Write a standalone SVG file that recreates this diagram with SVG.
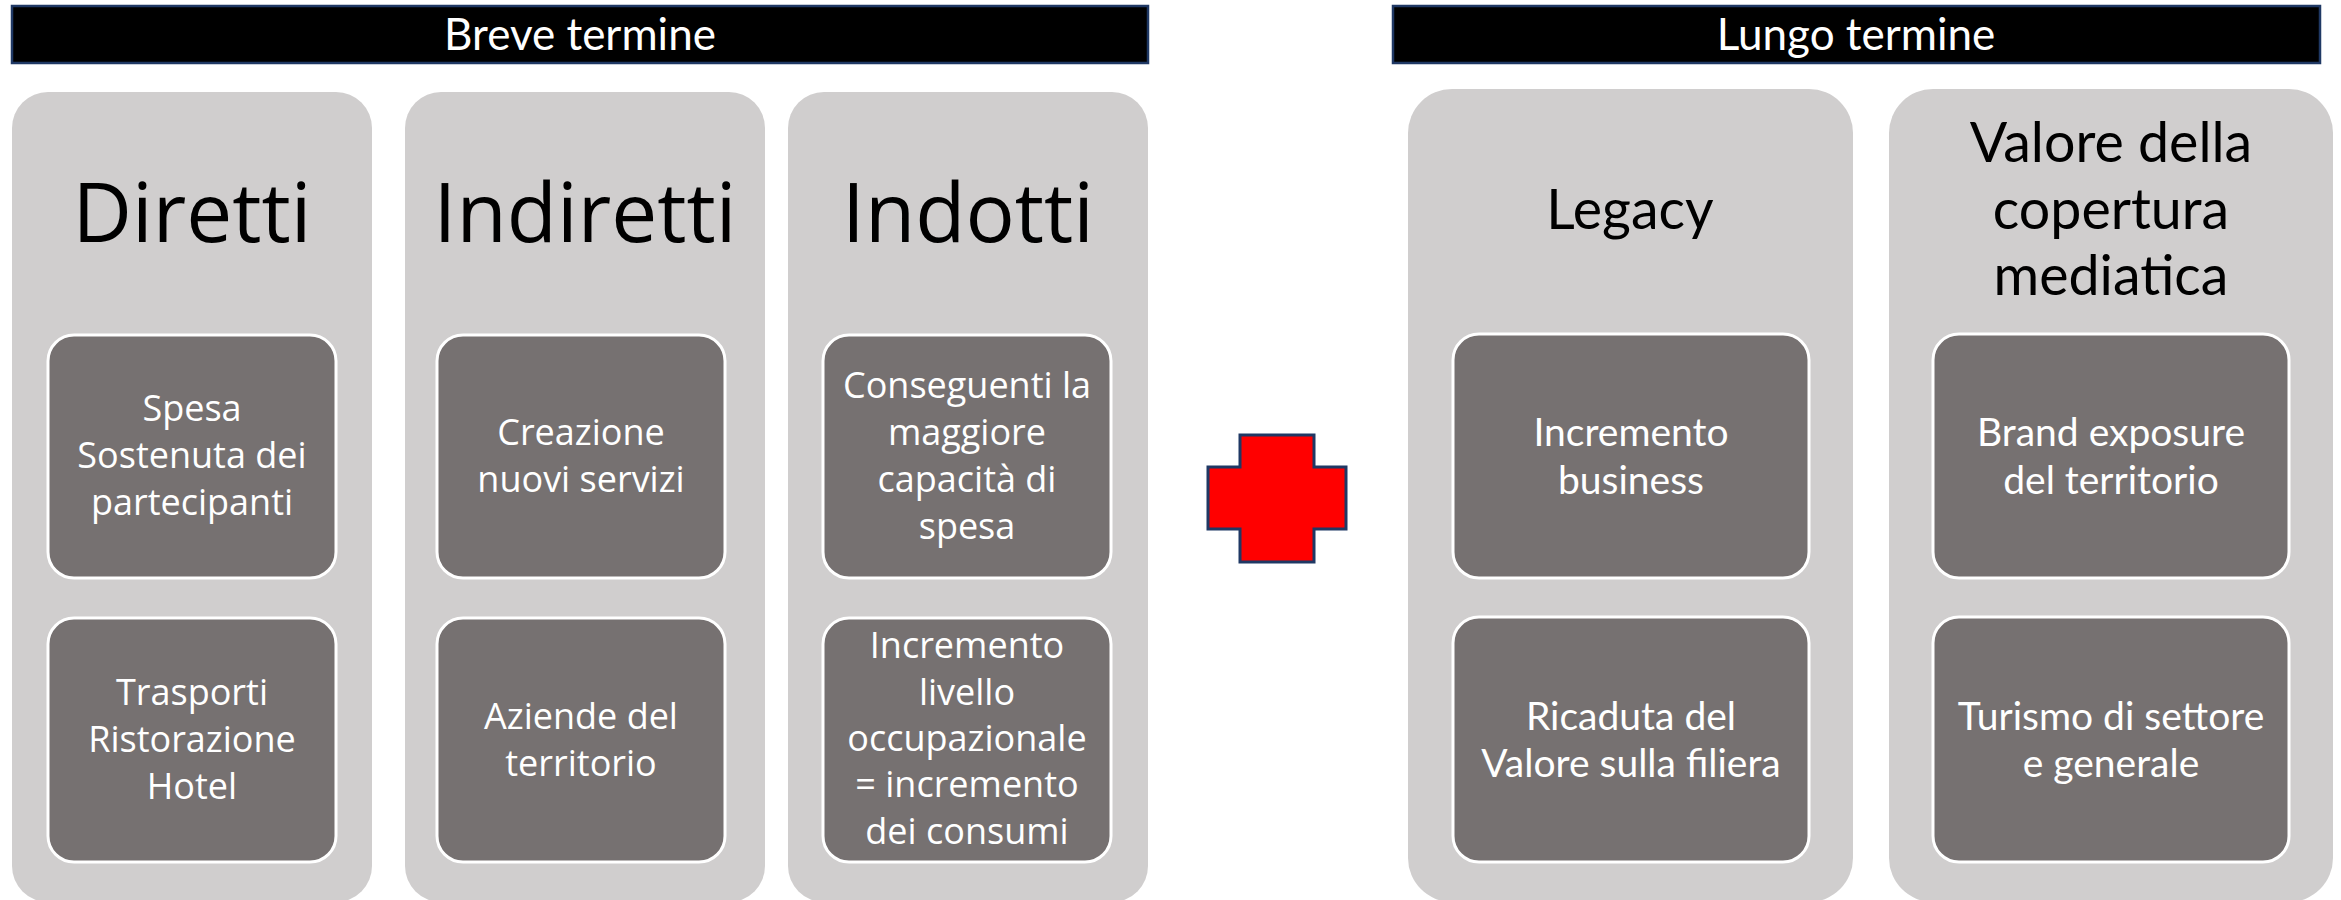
<svg xmlns="http://www.w3.org/2000/svg" width="2341" height="900" viewBox="0 0 2341 900">
<style>
.hdr{fill:#000000;stroke:#1F3864;stroke-width:2.5}
.hdrt{fill:#FFFFFF;font-family:Lato,"Liberation Sans",sans-serif;font-size:44px;text-anchor:middle}
.col{fill:#D0CECE}
.box{fill:#767171;stroke:#FFFFFF;stroke-width:3}
.h1{fill:#000000;font-family:"Open Sans","Noto Sans",sans-serif;font-size:82px;text-anchor:middle}
.h2{fill:#000000;font-family:Lato,"Liberation Sans",sans-serif;font-size:55.5px;text-anchor:middle}
.t1{fill:#FFFFFF;font-family:"Open Sans","Noto Sans",sans-serif;font-size:36px;text-anchor:middle}
.t2{fill:#FFFFFF;font-family:Lato,"Liberation Sans",sans-serif;font-size:39px;text-anchor:middle}
.plus{fill:#FF0000;stroke:#1F3864;stroke-width:3}
</style>
<rect width="2341" height="900" fill="#FFFFFF"/>
<g id="header-breve">
<rect class="hdr" x="12" y="6" width="1136" height="57"/>
<text class="hdrt" x="580" y="50">Breve termine</text>
</g>
<g id="header-lungo">
<rect class="hdr" x="1393" y="6" width="927" height="57"/>
<text class="hdrt" x="1856" y="50">Lungo termine</text>
</g>
<g id="col-diretti">
<rect class="col" x="12" y="92" width="360" height="810" rx="36"/>
<text class="h1" x="192" y="242">Diretti</text>
</g>
<g id="col-indiretti">
<rect class="col" x="405" y="92" width="360" height="810" rx="36"/>
<text class="h1" x="585" y="242">Indiretti</text>
</g>
<g id="col-indotti">
<rect class="col" x="788" y="92" width="360" height="810" rx="36"/>
<text class="h1" x="968" y="242">Indotti</text>
</g>
<g id="col-legacy">
<rect class="col" x="1408" y="89" width="445" height="813" rx="44"/>
<text class="h2" x="1630" y="229">Legacy</text>
</g>
<g id="col-valore">
<rect class="col" x="1889" y="89" width="444" height="813" rx="44"/>
<text class="h2" x="2111" y="162">Valore della</text>
<text class="h2" x="2111" y="229">copertura</text>
<text class="h2" x="2111" y="295">mediatica</text>
</g>
<g id="box-spesa">
<rect class="box" x="48" y="335" width="288" height="243" rx="26"/>
<text class="t1" x="192" y="421">Spesa</text>
<text class="t1" x="192" y="468">Sostenuta dei</text>
<text class="t1" x="192" y="515">partecipanti</text>
</g>
<g id="box-trasporti">
<rect class="box" x="48" y="618" width="288" height="244" rx="26"/>
<text class="t1" x="192" y="705">Trasporti</text>
<text class="t1" x="192" y="752">Ristorazione</text>
<text class="t1" x="192" y="799">Hotel</text>
</g>
<g id="box-creazione">
<rect class="box" x="437" y="335" width="288" height="243" rx="26"/>
<text class="t1" x="581" y="445">Creazione</text>
<text class="t1" x="581" y="492">nuovi servizi</text>
</g>
<g id="box-aziende">
<rect class="box" x="437" y="618" width="288" height="244" rx="26"/>
<text class="t1" x="581" y="729">Aziende del</text>
<text class="t1" x="581" y="776">territorio</text>
</g>
<g id="box-conseguenti">
<rect class="box" x="823" y="335" width="288" height="243" rx="26"/>
<text class="t1" x="967" y="398">Conseguenti la</text>
<text class="t1" x="967" y="445">maggiore</text>
<text class="t1" x="967" y="492">capacità di</text>
<text class="t1" x="967" y="539">spesa</text>
</g>
<g id="box-incremento-livello">
<rect class="box" x="823" y="618" width="288" height="244" rx="26"/>
<text class="t1" x="967" y="658">Incremento</text>
<text class="t1" x="967" y="705">livello</text>
<text class="t1" x="967" y="751">occupazionale</text>
<text class="t1" x="967" y="797">= incremento</text>
<text class="t1" x="967" y="844">dei consumi</text>
</g>
<g id="plus">
<polygon class="plus" points="1240,435 1314,435 1314,467 1346,467 1346,529 1314,529 1314,562 1240,562 1240,529 1208,529 1208,467 1240,467"/>
</g>
<g id="box-business">
<rect class="box" x="1453" y="334" width="356" height="244" rx="26"/>
<text class="t2" x="1631" y="446">Incremento</text>
<text class="t2" x="1631" y="494">business</text>
</g>
<g id="box-ricaduta">
<rect class="box" x="1453" y="617" width="356" height="245" rx="26"/>
<text class="t2" x="1631" y="730">Ricaduta del</text>
<text class="t2" x="1631" y="777">Valore sulla filiera</text>
</g>
<g id="box-brand">
<rect class="box" x="1933" y="334" width="356" height="244" rx="26"/>
<text class="t2" x="2111" y="446">Brand exposure</text>
<text class="t2" x="2111" y="494">del territorio</text>
</g>
<g id="box-turismo">
<rect class="box" x="1933" y="617" width="356" height="245" rx="26"/>
<text class="t2" x="2111" y="730">Turismo di settore</text>
<text class="t2" x="2111" y="777">e generale</text>
</g>
<g id="connectors"></g>
</svg>
